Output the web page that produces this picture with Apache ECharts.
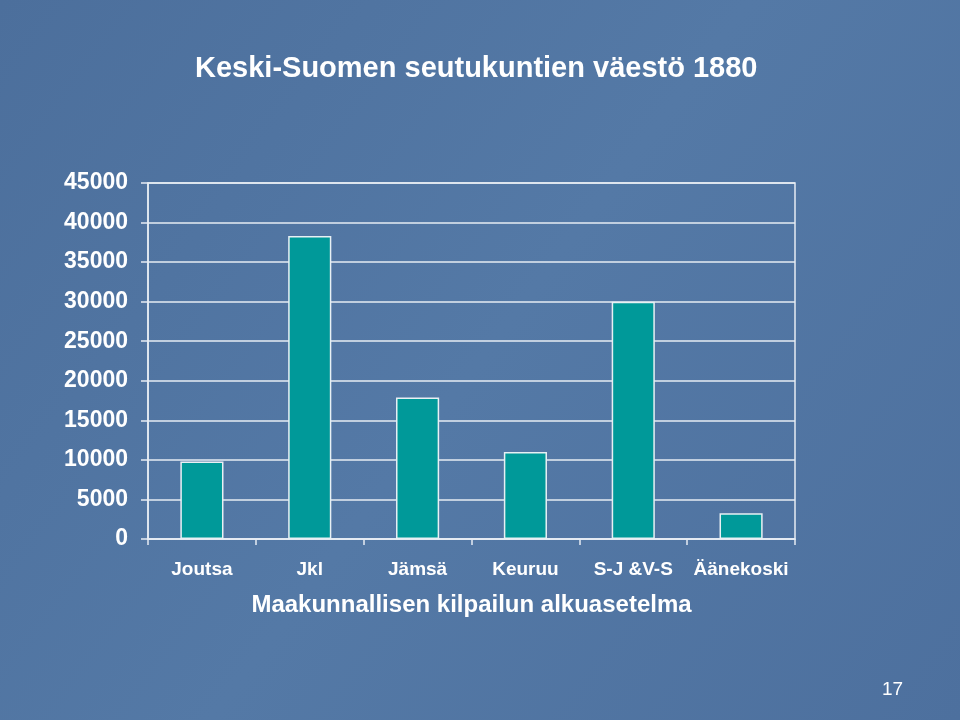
<!DOCTYPE html>
<html>
<head>
    <meta charset="UTF-8">
    <title>Keski-Suomen seutukuntien väestö 1880</title>
    <style>
        html, body {
            margin: 0;
            padding: 0;
            background: #4f73a0;
        }

        #chart {
            width: 960px;
            height: 720px;
        }
    </style>
    <script src="https://cdn.jsdelivr.net/npm/echarts@6/dist/echarts.min.js"></script>
</head>
<body>
<div id="chart"></div>
<script>
    var categories = ['Joutsa', 'Jkl', 'Jämsä', 'Keuruu', 'S-J &V-S', 'Äänekoski'];
    var population = [9800, 38300, 17900, 11000, 30000, 3250];
    var yTicks = [0, 5000, 10000, 15000, 20000, 25000, 30000, 35000, 40000, 45000];

    var font = 'Arial, "Liberation Sans", sans-serif';
    var chart = echarts.init(document.getElementById('chart'), null, {renderer: 'canvas'});

    chart.setOption({
        backgroundColor: {
            type: 'linear', x: 0, y: 0, x2: 1, y2: 1,
            colorStops: [
                {offset: 0, color: '#4c6f9c'},
                {offset: 0.5, color: '#5479a6'},
                {offset: 1, color: '#4d709e'}
            ]
        },
        title: {
            text: 'Keski-Suomen seutukuntien väestö 1880',
            left: 190,
            top: 49,
            textStyle: {
                color: '#ffffff',
                fontFamily: font,
                fontWeight: 'bold',
                fontSize: 29
            }
        },
        grid: {
            left: 148,
            right: 165,
            top: 183,
            bottom: 181,
            show: true,
            borderColor: '#e6ecf3',
            borderWidth: 1.5,
            backgroundColor: 'transparent'
        },
        xAxis: {
            type: 'category',
            data: categories,
            name: 'Maakunnallisen kilpailun alkuasetelma',
            nameLocation: 'middle',
            nameGap: 54,
            nameTextStyle: {
                color: '#ffffff',
                fontFamily: font,
                fontWeight: 'bold',
                fontSize: 24
            },
            axisLine: {lineStyle: {color: '#e6ecf3', width: 1.5}},
            axisTick: {show: true, length: 6, alignWithLabel: false, lineStyle: {color: '#e6ecf3', width: 1.5}},
            axisLabel: {
                color: '#ffffff',
                fontFamily: font,
                fontWeight: 'bold',
                fontSize: 19,
                margin: 21,
                interval: 0
            }
        },
        yAxis: {
            type: 'value',
            min: yTicks[0],
            max: yTicks[yTicks.length - 1],
            interval: yTicks[1] - yTicks[0],
            axisLine: {show: true, lineStyle: {color: '#e6ecf3', width: 1.5}},
            axisTick: {show: true, length: 7, lineStyle: {color: '#e6ecf3', width: 1.5}},
            splitLine: {lineStyle: {color: '#e6ecf3', width: 1.5}},
            axisLabel: {
                color: '#ffffff',
                fontFamily: font,
                fontWeight: 'bold',
                fontSize: 23,
                margin: 20,
                formatter: function (v) { return String(v); }
            }
        },
        series: [{
            type: 'bar',
            data: population,
            barWidth: '40%',
            itemStyle: {
                color: '#009999',
                borderColor: '#e8f0f4',
                borderWidth: 1.5
            }
        }],
        graphic: [{
            type: 'text',
            left: 882,
            top: 680,
            style: {
                text: '17',
                fill: '#ffffff',
                font: '19px ' + font,
                shadowColor: 'rgba(0,0,0,0.6)',
                shadowBlur: 2,
                shadowOffsetX: 1,
                shadowOffsetY: 1
            }
        }]
    });
</script>
</body>
</html>
